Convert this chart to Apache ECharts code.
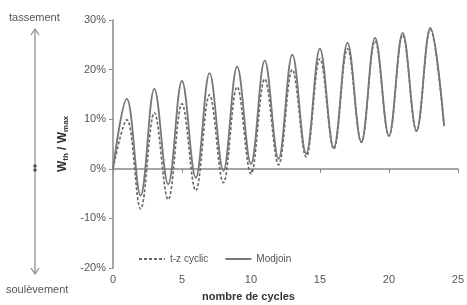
<!doctype html>
<html>
<head>
<meta charset="UTF-8">
<script src="https://cdn.jsdelivr.net/npm/echarts@6/dist/echarts.min.js"></script>
<style>
  html, body { margin: 0; padding: 0; background: #fff; }
  #main { width: 467px; height: 305px; }
</style>
</head>
<body>
<div id="main"></div>
<script>
// nombre de cycles (pics et creux)
var cycles = [0, 1, 2, 3, 4, 5, 6, 7, 8, 9, 10, 11, 12, 13, 14, 15, 16, 17, 18, 19, 20, 21, 22, 23, 24];

// t-z cyclic (%)
var tzCyclic = [0, 9.9, -8.1, 11.3, -6.2, 13.1, -4.4, 14.9, -2.8, 16.5, -1.0, 18.1, 0.8, 20.0, 2.4,
  22.2, 4.0, 24.2, 5.3, 25.8, 6.6, 27.0, 7.6, 28.1, 8.6];

// Modjoin (%)
var modjoin = [0, 14.1, -5.4, 16.1, -3.1, 17.7, -1.8, 19.3, -0.4, 20.6, 1.0, 21.8, 2.0, 23.0, 3.0,
  24.2, 4.2, 25.4, 5.4, 26.4, 6.7, 27.4, 7.7, 28.4, 8.7];

var seriesNames = ['t-z cyclic', 'Modjoin'];

function pairs(vals) {
  return cycles.map(function (c, i) { return [c, vals[i]]; });
}

var chart = echarts.init(document.getElementById('main'));
var grey = '#777';
var txt = '#555';

var option = {
  animation: false,
  backgroundColor: '#fff',
  textStyle: { fontFamily: 'Liberation Sans, Arial, sans-serif' },
  grid: { left: 113, right: 4, top: 20, bottom: 37 },
  legend: {
    data: seriesNames,
    left: 133, top: 249,
    itemWidth: 26, itemHeight: 10, itemGap: 16,
    itemStyle: { opacity: 0 },
    textStyle: { color: txt, fontSize: 10 }
  },
  xAxis: {
    type: 'value', min: 0, max: 25, interval: 5,
    axisLine: { lineStyle: { color: '#888', width: 1.5 } },
    axisTick: { show: true, length: 4, lineStyle: { color: '#888' } },
    axisLabel: { color: txt, fontSize: 11, margin: 6 },
    splitLine: { show: false }
  },
  yAxis: {
    type: 'value', min: -20, max: 30, interval: 10,
    name: '{w|W}{s|th}{w| / W}{s|max}', nameLocation: 'middle', nameGap: 36, nameRotate: 90,
    nameTextStyle: {
      rich: {
        w: { fontSize: 12, color: '#333', fontWeight: 'bold' },
        s: { fontSize: 8, color: '#333', fontWeight: 'bold', verticalAlign: 'bottom', padding: [5, 0, 0, 0] }
      }
    },
    axisLine: { show: true, lineStyle: { color: '#888', width: 1.5 } },
    axisTick: { show: true, length: 4, lineStyle: { color: '#888' } },
    axisLabel: { color: txt, fontSize: 11, margin: 7, formatter: '{value}%' },
    splitLine: { show: false }
  },
  series: [
    {
      name: seriesNames[0], type: 'line', symbol: 'none', smooth: 0.38,
      data: pairs(tzCyclic),
      lineStyle: { color: '#666', width: 1.6, type: [3, 2] },
      itemStyle: { color: '#666' }
    },
    {
      name: seriesNames[1], type: 'line', symbol: 'none', smooth: 0.38,
      data: pairs(modjoin),
      lineStyle: { color: grey, width: 1.8 },
      itemStyle: { color: grey }
    }
  ],
  graphic: [
    { type: 'text', left: 9, top: 12, style: { text: 'tassement', fill: txt, fontSize: 11, fontFamily: 'Liberation Sans' } },
    { type: 'text', left: 6, top: 284, style: { text: 'soulèvement', fill: txt, fontSize: 11, fontFamily: 'Liberation Sans' } },
    { type: 'text', left: 202, top: 291, style: { text: 'nombre de cycles', fill: '#333', fontSize: 11, fontWeight: 'bold', fontFamily: 'Liberation Sans' } },
    { type: 'line', shape: { x1: 35, y1: 30, x2: 35, y2: 273 }, style: { stroke: '#888', lineWidth: 1.2 } },
    { type: 'polyline', shape: { points: [[31, 35], [35, 29], [39, 35]] }, style: { stroke: '#888', lineWidth: 1.2, fill: null } },
    { type: 'polyline', shape: { points: [[31, 268], [35, 274], [39, 268]] }, style: { stroke: '#888', lineWidth: 1.2, fill: null } },
    { type: 'circle', shape: { cx: 35, cy: 166, r: 1.8 }, style: { fill: '#555' } },
    { type: 'circle', shape: { cx: 35, cy: 170, r: 1.8 }, style: { fill: '#555' } }
  ]
};
chart.setOption(option);
</script>
</body>
</html>
